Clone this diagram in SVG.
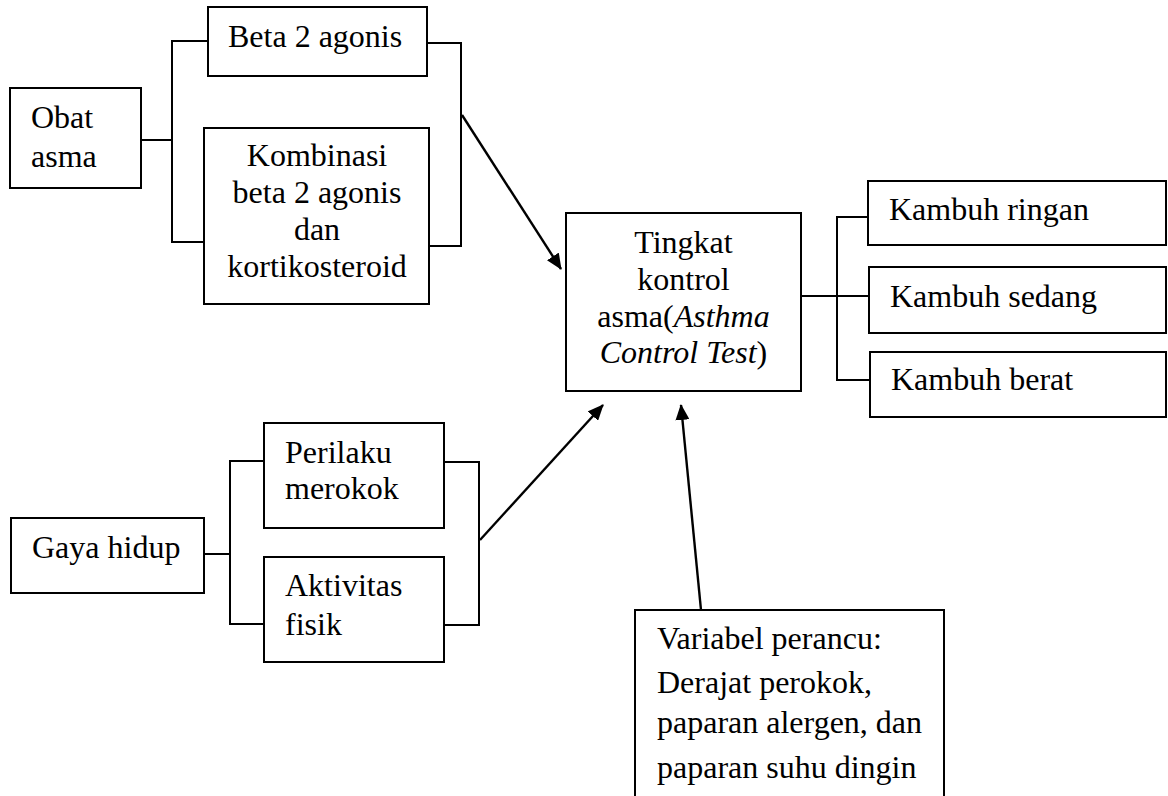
<svg xmlns="http://www.w3.org/2000/svg" width="1168" height="796" viewBox="0 0 1168 796">
<style>
.box{fill:#fff;stroke:#000;stroke-width:2}
.ln{fill:none;stroke:#000;stroke-width:2}
.arr{fill:none;stroke:#000;stroke-width:2.4}
.c{text-anchor:middle}
</style>
<defs>
<marker id="ah" markerUnits="userSpaceOnUse" markerWidth="16" markerHeight="14" refX="15" refY="7" orient="auto">
<path d="M0,0 L16,7 L0,14 Z" fill="#000"/>
</marker>
</defs>
<rect width="1168" height="796" fill="#fff"/>
<g id="connectors">
<polyline class="ln" points="141,140 172,140"/>
<polyline class="ln" points="208,41 172,41 172,242 205,242"/>
<polyline class="ln" points="427,43 461,43 461,246 427,246"/>
<line class="arr" x1="462" y1="115" x2="561" y2="269" marker-end="url(#ah)"/>
<polyline class="ln" points="204,554 231,554"/>
<polyline class="ln" points="264,461 230,461 230,624 266,624"/>
<polyline class="ln" points="444,462 479,462 479,625 444,625"/>
<line class="arr" x1="480" y1="540" x2="603" y2="405" marker-end="url(#ah)"/>
<line class="arr" x1="701" y1="610" x2="681" y2="405" marker-end="url(#ah)"/>
<polyline class="ln" points="801,296 869,296"/>
<polyline class="ln" points="868,217 837,217 837,380 870,380"/>
</g>
<g id="obat-asma">
<rect class="box" x="10" y="88" width="131" height="100"/>
<text x="31" y="128" font-family="Liberation Serif" font-size="32">Obat</text>
<text x="31" y="167" font-family="Liberation Serif" font-size="32">asma</text>
</g>
<g id="beta-2-agonis">
<rect class="box" x="208" y="7" width="219" height="69"/>
<text x="228" y="47" font-family="Liberation Serif" font-size="32">Beta 2 agonis</text>
</g>
<g id="kombinasi">
<rect class="box" x="204" y="128" width="225" height="176"/>
<text class="c" x="317" y="166" font-family="Liberation Serif" font-size="32">Kombinasi</text>
<text class="c" x="317" y="203" font-family="Liberation Serif" font-size="32">beta 2 agonis</text>
<text class="c" x="317" y="240" font-family="Liberation Serif" font-size="32">dan</text>
<text class="c" x="317" y="277" font-family="Liberation Serif" font-size="32">kortikosteroid</text>
</g>
<g id="tingkat-kontrol">
<rect class="box" x="566" y="213" width="235" height="178"/>
<text class="c" x="683.5" y="253" font-family="Liberation Serif" font-size="32">Tingkat</text>
<text class="c" x="683.5" y="290" font-family="Liberation Serif" font-size="32">kontrol</text>
<text class="c" x="683.5" y="327" font-family="Liberation Serif" font-size="32">asma(<tspan font-style="italic">Asthma</tspan></text>
<text class="c" x="683.5" y="363" font-family="Liberation Serif" font-size="32"><tspan font-style="italic">Control Test</tspan>)</text>
</g>
<g id="kambuh-ringan">
<rect class="box" x="868" y="181" width="298" height="64"/>
<text x="889" y="220" font-family="Liberation Serif" font-size="32">Kambuh ringan</text>
</g>
<g id="kambuh-sedang">
<rect class="box" x="869" y="267" width="297" height="66"/>
<text x="890" y="307" font-family="Liberation Serif" font-size="32">Kambuh sedang</text>
</g>
<g id="kambuh-berat">
<rect class="box" x="870" y="352" width="296" height="65"/>
<text x="891" y="390" font-family="Liberation Serif" font-size="32">Kambuh berat</text>
</g>
<g id="gaya-hidup">
<rect class="box" x="11" y="518" width="193" height="75"/>
<text x="32" y="558" font-family="Liberation Serif" font-size="32">Gaya hidup</text>
</g>
<g id="perilaku-merokok">
<rect class="box" x="264" y="423" width="180" height="105"/>
<text x="285" y="463" font-family="Liberation Serif" font-size="32">Perilaku</text>
<text x="285" y="499" font-family="Liberation Serif" font-size="32">merokok</text>
</g>
<g id="aktivitas-fisik">
<rect class="box" x="264" y="557" width="180" height="105"/>
<text x="285" y="596" font-family="Liberation Serif" font-size="32">Aktivitas</text>
<text x="285" y="635" font-family="Liberation Serif" font-size="32">fisik</text>
</g>
<g id="variabel-perancu">
<path class="ln" d="M635,800 L635,610 L944,610 L944,800"/>
<text x="657" y="649" font-family="Liberation Serif" font-size="32">Variabel perancu:</text>
<text x="657" y="693" font-family="Liberation Serif" font-size="32">Derajat perokok,</text>
<text x="657" y="733" font-family="Liberation Serif" font-size="32">paparan alergen, dan</text>
<text x="657" y="778" font-family="Liberation Serif" font-size="32">paparan suhu dingin</text>
</g>
</svg>
